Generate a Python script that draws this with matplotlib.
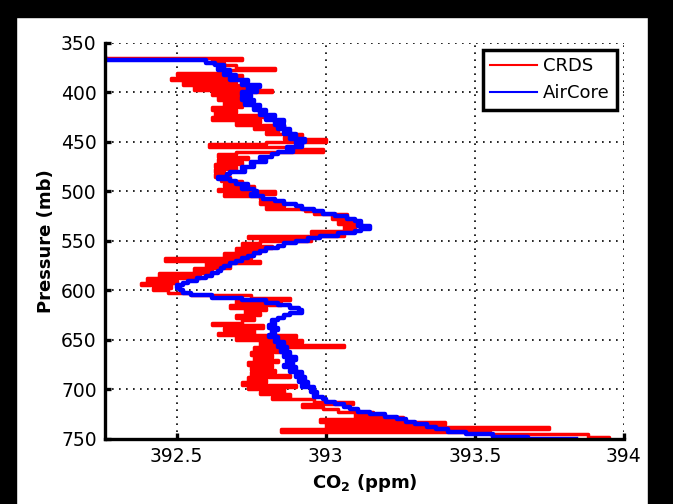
import matplotlib.pyplot as plt
import numpy as np
from matplotlib.patches import Rectangle

plt.rcParams["font.family"] = ["DejaVu Sans"]
plt.rcParams["mathtext.fontset"] = "dejavusans"

# pressure levels (mb), one reading every 2.5 mb from 365 to 750
p_start = 365.0
p_step = 2.5

# CO2 (ppm)
crds = [
    392.27, 392.72, 392.62, 392.66, 392.70, 392.83, 392.66, 392.50, 392.72, 392.48,
    392.70, 392.52, 392.73, 392.56, 392.82, 392.62, 392.72, 392.64, 392.73, 392.66,
    392.72, 392.62, 392.70, 392.63, 392.82, 392.62, 392.78, 392.70, 392.86, 392.76,
    392.84, 392.80, 392.92, 392.86, 393.00, 392.80, 392.61, 392.88, 392.99, 392.70,
    392.64, 392.74, 392.64, 392.72, 392.63, 392.70, 392.63, 392.66, 392.63, 392.68,
    392.65, 392.72, 392.66, 392.76, 392.64, 392.83, 392.66, 392.78, 392.82, 392.78,
    392.86, 392.80, 392.93, 392.96, 393.07, 393.02, 393.10, 393.04, 393.12, 393.06,
    393.10, 392.95, 393.06, 392.74, 392.95, 392.78, 392.72, 392.82, 392.70, 392.78,
    392.66, 392.75, 392.46, 392.78, 392.60, 392.68, 392.56, 392.62, 392.44, 392.58,
    392.40, 392.50, 392.38, 392.48, 392.42, 392.47, 392.55, 392.75, 392.88, 392.70,
    392.85, 392.68, 392.80, 392.73, 392.78, 392.70, 392.76, 392.72, 392.62, 392.79,
    392.66, 392.76, 392.64, 392.90, 392.70, 392.92, 392.78, 393.06, 392.76, 392.86,
    392.75, 392.82, 392.76, 392.84, 392.74, 392.82, 392.75, 392.83, 392.75, 392.88,
    392.74, 392.80, 392.72, 392.90, 392.74, 392.86, 392.78, 392.88, 392.82, 392.96,
    393.09, 392.92, 392.99, 393.04, 393.16, 393.10, 393.26, 392.98, 393.40, 393.00,
    393.75, 392.85, 393.55, 393.88, 393.95,
]

# CO2 (ppm)
aircore = [
    392.26, 392.60, 392.63, 392.66, 392.64, 392.68, 392.66, 392.70, 392.68, 392.74,
    392.72, 392.78, 392.74, 392.77, 392.72, 392.75, 392.72, 392.76, 392.73, 392.78,
    392.76, 392.80, 392.78, 392.83, 392.80, 392.86, 392.83, 392.86, 392.84, 392.88,
    392.86, 392.90, 392.88, 392.93, 392.90, 392.92, 392.87, 392.89, 392.84, 392.82,
    392.78, 392.80, 392.75, 392.76, 392.72, 392.73, 392.68, 392.67, 392.64, 392.68,
    392.70, 392.74, 392.72, 392.76, 392.77, 392.75, 392.79, 392.83, 392.86, 392.90,
    392.92, 392.96, 392.99, 393.03, 393.07, 393.10, 393.12, 393.11, 393.15, 393.12,
    393.10, 393.04, 392.98, 392.94, 392.90, 392.86, 392.84, 392.80, 392.78, 392.76,
    392.74, 392.72, 392.70, 392.68, 392.66, 392.65, 392.64, 392.62, 392.60, 392.57,
    392.54, 392.52, 392.50, 392.51, 392.52, 392.55, 392.62, 392.72, 392.80, 392.84,
    392.88, 392.91, 392.92, 392.88, 392.86, 392.84, 392.82, 392.83, 392.81, 392.84,
    392.82, 392.83, 392.81, 392.84, 392.83, 392.86, 392.84, 392.87, 392.85, 392.88,
    392.86, 392.90, 392.87, 392.89, 392.86, 392.90, 392.88, 392.92, 392.90, 392.93,
    392.91, 392.94, 392.92, 392.96, 392.95, 392.97, 392.96, 392.99, 393.00, 393.03,
    393.06, 393.08, 393.11, 393.15, 393.20, 393.24, 393.27, 393.30, 393.34, 393.37,
    393.41, 393.47, 393.56, 393.68, 393.84,
]

x_ticks = [392.5, 393, 393.5, 394]
x_tick_labels = ["392.5", "393", "393.5", "394"]
y_ticks = [350, 400, 450, 500, 550, 600, 650, 700, 750]

p_crds = p_start + p_step * np.arange(len(crds))
p_air = p_start + p_step * np.arange(len(aircore))

fig = plt.figure(figsize=(6.73, 5.04), dpi=100)
fig.patch.set_facecolor("white")

# black frame around the screenshot (top, left, right)
for x0, y0, w, h in [(0, 0, 0.024, 1), (0.963, 0, 0.037, 1), (0, 0.966, 1, 0.034)]:
    fig.patches.append(
        Rectangle((x0, y0), w, h, transform=fig.transFigure, color="black", zorder=0)
    )

ax = fig.add_axes([0.156, 0.129, 0.771, 0.786])

ax.plot(crds, p_crds, color="#ff0000", lw=2.5, label="CRDS", drawstyle="steps-post")
ax.plot(aircore, p_air, color="#0000ff", lw=3.2, label="AirCore", drawstyle="steps-pre")

ax.set_xlim(392.26, 394)
ax.set_ylim(750, 350)
ax.set_xticks(x_ticks)
ax.set_xticklabels(x_tick_labels)
ax.set_yticks(y_ticks)

ax.grid(True, color="black", linestyle=(0, (1, 3.2)), lw=1.2)
for side in ["top", "right"]:
    ax.spines[side].set_visible(False)
for side in ["left", "bottom"]:
    ax.spines[side].set_linewidth(2.4)
ax.tick_params(direction="in", length=4, width=2.4, labelsize=13.5, pad=6)

ax.set_xlabel(r"CO$_\mathbf{2}$ (ppm)", fontsize=13, fontweight="bold", labelpad=4)
ax.set_ylabel("Pressure (mb)", fontsize=13, fontweight="bold", labelpad=4)

leg = ax.legend(
    loc="upper right",
    fontsize=13,
    fancybox=False,
    framealpha=1,
    edgecolor="black",
    handlelength=2.6,
    handletextpad=0.3,
    borderaxespad=0.4,
    labelspacing=0.5,
)
leg.get_frame().set_linewidth(2.5)
for line in leg.get_lines():
    line.set_linewidth(1.5)

fig.savefig("out.png", dpi=100, facecolor="white")
